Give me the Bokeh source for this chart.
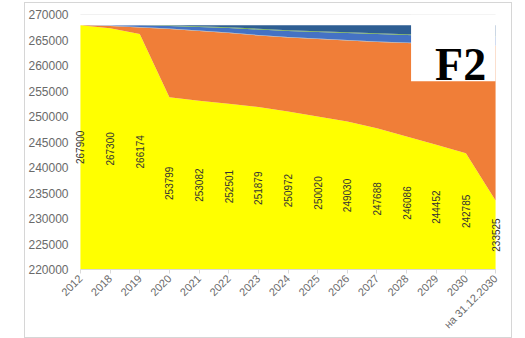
import math
from bokeh.plotting import figure
from bokeh.models import ColumnDataSource, FixedTicker, BoxAnnotation, Label, NumeralTickFormatter
from bokeh.embed import file_html
from bokeh.resources import INLINE

categories = ["2012", "2018", "2019", "2020", "2021", "2022", "2023", "2024",
              "2025", "2026", "2027", "2028", "2029", "2030", "на 31.12.2030"]
yellow = [267900, 267300, 266174, 253799, 253082, 252501, 251879, 250972,
          250020, 249030, 247688, 246086, 244452, 242785, 233525]
orange = [0, 450, 1280, 13360, 13680, 13870, 14000, 14520,
          15170, 15870, 16920, 18320, 19760, 21230, 30300]
gray = [0, 50, 80, 100, 100, 100, 100, 100, 100, 100, 100, 100, 100, 100, 100]
blue = [0, 40, 300, 490, 690, 880, 1080, 1180, 1280, 1370, 1470, 1470, 1470, 1570, 1670]
green = [0, 10, 30, 100, 150, 150, 150, 150, 150, 150, 150, 150, 150, 150, 150]
darkblue = [0, 10, 30, 60, 200, 400, 690, 990, 1180, 1380, 1570, 1770, 1970, 2060, 2160]
y_ticks = [220000, 225000, 230000, 235000, 240000, 245000, 250000, 255000, 260000, 265000, 270000]

xs = list(range(len(categories)))
src = ColumnDataSource(dict(x=xs, yellow=yellow, orange=orange, gray=gray,
                            blue=blue, green=green, darkblue=darkblue))

pad = 0.2
p = figure(width=486, height=334, output_backend="svg", toolbar_location=None,
           x_range=(xs[0] - pad, xs[-1] + pad), y_range=(y_ticks[0], y_ticks[-1]),
           min_border_left=48, min_border_right=10, min_border_top=11, min_border_bottom=68,
           margin=(3, 0, 0, 25))
p.styles = {"outline": "1px solid #d6d6d6", "outline-offset": "0px"}
p.outline_line_color = None
p.background_fill_color = "white"

stackers = ["yellow", "orange", "gray", "blue", "green", "darkblue"]
colors = ["#FFFF00", "#F07E38", "#A5A5A5", "#4472C4", "#70AD47", "#2E5E93"]
p.varea_stack(stackers, x="x", color=colors, source=src)

# top gridline across the category span
p.line(x=[xs[0], xs[-1]], y=[y_ticks[-1]] * 2, line_color="#e4e4e4", line_width=1)

p.xaxis.ticker = FixedTicker(ticks=xs)
p.xaxis.bounds = (xs[0], xs[-1])
p.xaxis.major_label_overrides = {i: c for i, c in enumerate(categories)}
p.xaxis.major_label_orientation = math.pi / 4
p.xaxis.axis_line_color = "#d9d9d9"
p.xaxis.major_tick_line_color = "#d9d9d9"
p.xaxis.major_tick_out = 4
p.xaxis.major_tick_in = 0
p.xaxis.minor_tick_line_color = None
p.xaxis.major_label_standoff = 3
p.xaxis.major_label_text_font_size = "11px"

p.yaxis.ticker = FixedTicker(ticks=y_ticks)
p.yaxis.formatter = NumeralTickFormatter(format="0")
p.yaxis.axis_line_color = None
p.yaxis.major_tick_line_color = None
p.yaxis.major_tick_out = 0
p.yaxis.major_tick_in = 0
p.yaxis.minor_tick_line_color = None
p.yaxis.minor_tick_out = 0
p.yaxis.major_label_standoff = 6
p.yaxis.major_label_text_font_size = "12px"

for ax in (p.xaxis, p.yaxis):
    ax.major_label_text_font = "Liberation Sans"
    ax.major_label_text_color = "#6a6a6a"

p.xgrid.grid_line_color = None
p.ygrid.grid_line_color = None

y_min = y_ticks[0]
for x, v in zip(xs, yellow):
    p.add_layout(Label(x=x, y=(y_min + v) / 2, text=str(v), angle=math.pi / 2,
                       text_align="center", text_baseline="middle",
                       text_font="Liberation Sans", text_font_size="10px",
                       text_color="#333333"))

box = BoxAnnotation(left=11.15, right=xs[-1], top=y_ticks[-1], bottom=256900,
                    fill_color="white", fill_alpha=1.0, line_color=None)
p.add_layout(box)
p.add_layout(Label(x=12.82, y=260200, text="F2", text_align="center",
                   text_baseline="alphabetic", text_font="Liberation Serif",
                   text_font_style="bold", text_font_size="46px", text_color="black"))

open("out.html", "w").write(file_html(p, INLINE))
